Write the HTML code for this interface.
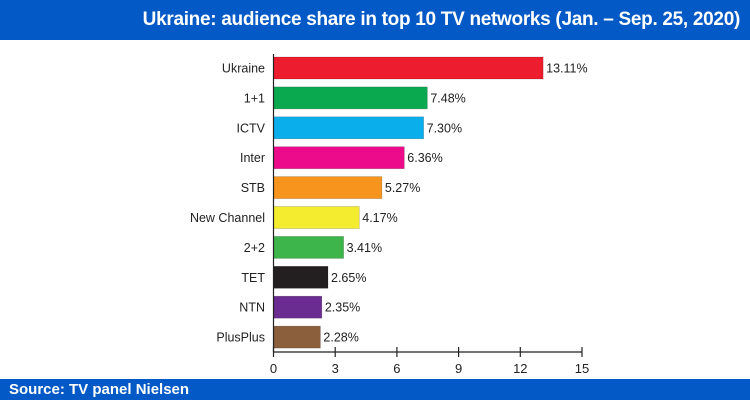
<!DOCTYPE html>
<html><head><meta charset="utf-8"><style>
body{margin:0;width:750px;height:400px;background:#fff;overflow:hidden;font-family:"Liberation Sans",sans-serif;position:relative}
#hdr{position:absolute;left:0;top:0;width:750px;height:40px;background:#0359c6;color:#fff;font-weight:bold;font-size:19px;line-height:40px;text-align:right;box-sizing:border-box;padding-right:10px;letter-spacing:-0.3px}
#ftr{position:absolute;left:0;top:379px;width:750px;height:21px;background:#0359c6;color:#fff;font-weight:bold;font-size:15px;line-height:21px;padding-left:9px;box-sizing:border-box}
svg{position:absolute;left:0;top:0}
</style></head><body>
<div id="hdr">Ukraine: audience share in top 10 TV networks (Jan. – Sep. 25, 2020)</div>
<svg id="chart" width="750" height="400"></svg>
<div id="ftr">Source: TV panel Nielsen</div>
<script>
const categories=["Ukraine","1+1","ICTV","Inter","STB","New Channel","2+2","TET","NTN","PlusPlus"];
const values=[13.11,7.48,7.30,6.36,5.27,4.17,3.41,2.65,2.35,2.28];
const valueLabels=["13.11%","7.48%","7.30%","6.36%","5.27%","4.17%","3.41%","2.65%","2.35%","2.28%"];
const colors=["#ed1c2e","#0aa84f","#0aaeea","#eb0b8b","#f7941d","#f4ec2e","#3db54a","#231f20","#6a2c91","#8b5e3c"];
const ticks=[0,3,6,9,12,15];
const svg=document.getElementById('chart');
const NS="http://www.w3.org/2000/svg";
const x0=273.5,x1=582,xmax=15;
const xs=v=>x0+(v/xmax)*(x1-x0);
const yTop=53,step=29.9;
const yc=i=>yTop+step*i+15;
const bh=22;
function mk(tag,attrs){const e=document.createElementNS(NS,tag);for(const k in attrs)e.setAttribute(k,attrs[k]);svg.appendChild(e);return e;}
categories.forEach((c,i)=>{
  const r=mk('rect',{x:xs(0),y:yc(i)-bh/2,width:xs(values[i])-xs(0),height:bh,fill:colors[i],stroke:"rgba(0,0,0,0.25)","stroke-width":0.6});
  
  
  const t=mk('text',{x:265,y:yc(i)+4.5,"text-anchor":"end","font-size":"12.5",fill:"#222"});
  t.textContent=c;
  
  
  const v=mk('text',{x:xs(values[i])+3,y:yc(i)+4.5,"font-size":"12.5",fill:"#222"});
  v.textContent=valueLabels[i];
  
  
});
const ya=mk('line',{x1:x0,y1:54,x2:x0,y2:352,stroke:"#222","stroke-width":1.2});


const xa=mk('line',{x1:x0,y1:352,x2:x1,y2:352,stroke:"#222","stroke-width":1.2});


ticks.forEach(t=>{
  const l=mk('line',{x1:xs(t),y1:347,x2:xs(t),y2:357,stroke:"#222","stroke-width":1.2});
  
  
  const tx=mk('text',{x:xs(t),y:373,"text-anchor":"middle","font-size":"13",fill:"#222"});
  tx.textContent=t;
  
  
});
</script>
</body></html>
